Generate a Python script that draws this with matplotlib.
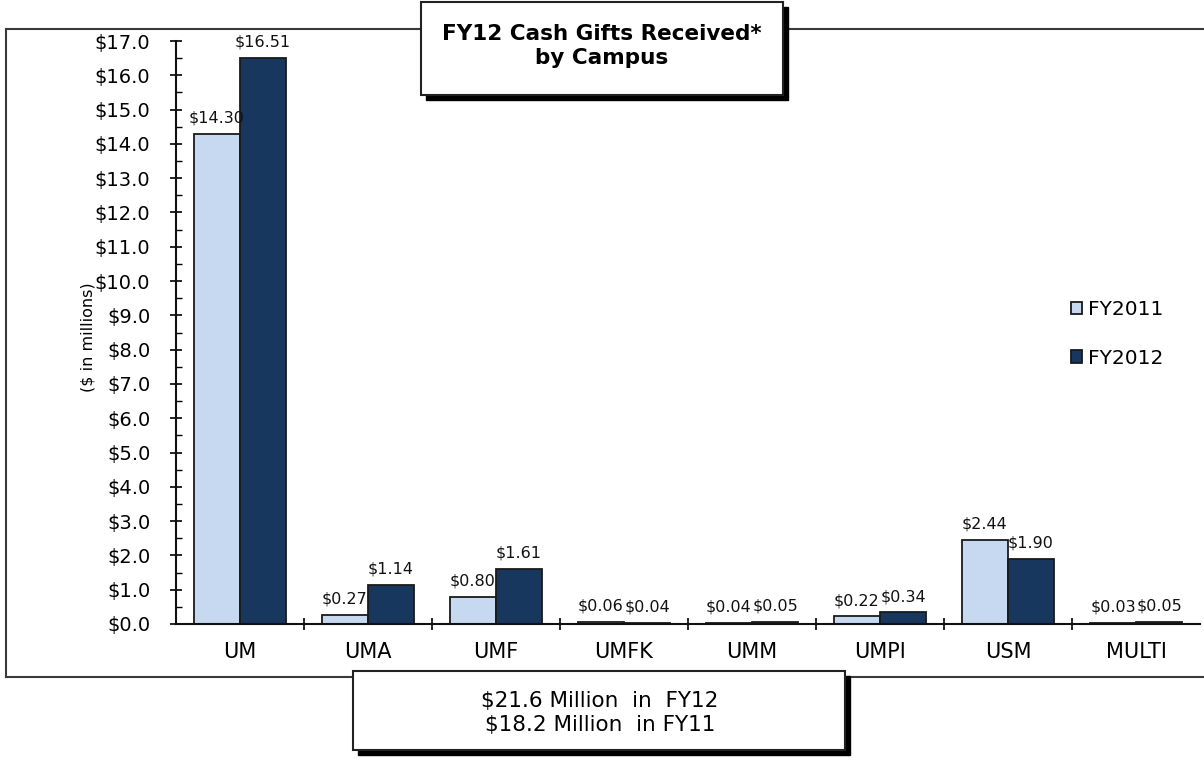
import matplotlib.pyplot as plt
from matplotlib.lines import Line2D
from matplotlib.patches import Rectangle
import numpy as np

# data ($ in millions)
campuses = ['UM', 'UMA', 'UMF', 'UMFK', 'UMM', 'UMPI', 'USM', 'MULTI']
fy2011 = [14.30, 0.27, 0.80, 0.06, 0.04, 0.22, 2.44, 0.03]
fy2012 = [16.51, 1.14, 1.61, 0.04, 0.05, 0.34, 1.90, 0.05]
series_names = ['FY2011', 'FY2012']
title_text = 'FY12 Cash Gifts Received*\nby Campus'
summary_text = r'\$21.6 Million  in  FY12' + '\n' + r'\$18.2 Million  in FY11'

light = '#C6D9F1'
dark = '#17375E'

W, H = 1204, 759
fig = plt.figure(figsize=(W / 100, H / 100), dpi=100)


def fx(px):
    return px / W


def fy(py):
    return 1 - py / H


# axes placed in pixel terms
ax = fig.add_axes([fx(176), fy(624), fx(1200) - fx(176), fy(41) - fy(624)])

x = np.arange(len(campuses))
bw = 0.36
b1 = ax.bar(x - bw / 2, fy2011, bw, color=light, edgecolor='#1a1a1a', linewidth=1.3, label=series_names[0])
b2 = ax.bar(x + bw / 2, fy2012, bw, color=dark, edgecolor='#1a1a1a', linewidth=1.3, label=series_names[1])

for bars, vals in [(b1, fy2011), (b2, fy2012)]:
    for r, v in zip(bars, vals):
        ax.annotate(r'\$%.2f' % v, (r.get_x() + r.get_width() / 2, r.get_height()),
                    xytext=(0, 6), textcoords='offset points', ha='center', va='bottom',
                    fontsize=11.5, color='#111111', annotation_clip=False)

ax.set_xlim(-0.5, len(campuses) - 0.5)
ax.set_ylim(0, 17)

ax.set_yticks(np.arange(0, 17.5, 1.0))
ax.set_yticklabels([r'\$%.1f' % v for v in np.arange(0, 17.5, 1.0)], fontsize=14)
ax.set_yticks(np.arange(0.5, 17, 1.0), minor=True)
ax.tick_params(axis='y', which='major', direction='inout', length=9, width=1.2, pad=14)
ax.tick_params(axis='y', which='minor', direction='in', length=4, width=1.0)

ax.set_xticks(x)
ax.set_xticklabels(campuses, fontsize=15)
ax.set_xticks(np.arange(0.5, len(campuses) - 0.5, 1.0), minor=True)
ax.tick_params(axis='x', which='major', length=0, pad=13)
ax.tick_params(axis='x', which='minor', direction='inout', length=9, width=1.2)

for s in ['top', 'right']:
    ax.spines[s].set_visible(False)
for s in ['left', 'bottom']:
    ax.spines[s].set_linewidth(1.5)
    ax.spines[s].set_color('#111111')

fig.text(fx(88), fy(337), r'(\$ in millions)', rotation=90, ha='center', va='center', fontsize=11.5)

leg = fig.legend(handles=[b1, b2], labels=series_names, loc='center left',
                 bbox_to_anchor=(fx(1071), fy(334)), frameon=False, fontsize=14.5,
                 handlelength=0.55, handleheight=0.55, handletextpad=0.3,
                 labelspacing=1.45, borderpad=0, borderaxespad=0)

# outer border (open on the right)
bc = '#3a3a3a'
fig.add_artist(Line2D([fx(6), fx(1204)], [fy(29), fy(29)], color=bc, lw=1.5, transform=fig.transFigure))
fig.add_artist(Line2D([fx(6), fx(1204)], [fy(677), fy(677)], color=bc, lw=1.5, transform=fig.transFigure))
fig.add_artist(Line2D([fx(6), fx(6)], [fy(29), fy(677)], color=bc, lw=1.5, transform=fig.transFigure))


def shadow_box(x0, y0, x1, y1, off=5):
    fig.add_artist(Rectangle((fx(x0 + off), fy(y1 + off)), fx(x1) - fx(x0), fy(y0) - fy(y1),
                             facecolor='black', edgecolor='black', transform=fig.transFigure, zorder=5))
    fig.add_artist(Rectangle((fx(x0), fy(y1)), fx(x1) - fx(x0), fy(y0) - fy(y1),
                             facecolor='white', edgecolor='#222222', lw=1.5, transform=fig.transFigure, zorder=6))


shadow_box(421, 2, 783, 95)
fig.text(fx(602), fy(46), title_text, ha='center', va='center', fontsize=15.5,
         fontweight='bold', linespacing=1.2, zorder=7)

shadow_box(353, 671, 845, 750)
fig.text(fx(600), fy(713), summary_text, ha='center', va='center', fontsize=15.5,
         linespacing=1.3, zorder=7)

fig.savefig('out.png', dpi=100)
